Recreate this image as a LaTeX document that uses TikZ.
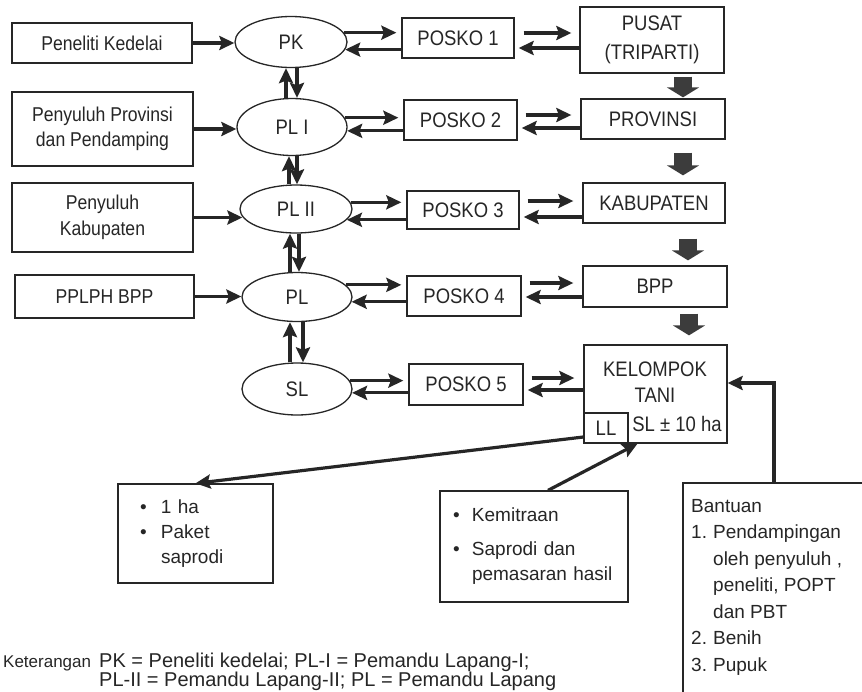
\documentclass[tikz,border=0pt]{standalone}
\usepackage{fontspec}
\setmainfont{Liberation Sans}[FakeStretch=0.88]
\newfontfamily\legfont{Liberation Sans}
\usetikzlibrary{arrows.meta,shapes.geometric,calc}
\definecolor{ink}{HTML}{262626}
\definecolor{blk}{HTML}{3C3C3C}
\begin{document}
\begin{tikzpicture}[x=1pt,y=-1pt,
  sz/.style 2 args={minimum width=#1pt,minimum height=#2pt},
  box/.style={draw=ink,line width=1.3pt,rectangle,inner sep=0pt,font=\fontsize{21}{26}\selectfont,text=ink,align=center},
  lbox/.style={box,font=\fontsize{20}{25.5}\selectfont},
  ell/.style={draw=ink,line width=1.3pt,ellipse,inner sep=0pt,font=\fontsize{21}{26}\selectfont,text=ink},
  lbl/.style={inner sep=0pt,font=\fontsize{21}{26}\selectfont,text=ink,align=center},
  bbox/.style={draw=ink,line width=1.3pt,rectangle,inner ysep=0pt,font=\legfont\fontsize{19}{25}\selectfont,text=ink,align=left},
  arr/.style={draw=ink,line width=3.2pt,-{Stealth[length=15pt,width=14pt,inset=2.5pt]}},
  bigarr/.style={draw=blk,line width=18pt,-{Triangle[width=32pt,length=10pt]}},
  ]
\useasboundingbox (0,0) rectangle (862,691);
\fill[white] (0,0) rectangle (862,691);

% left boxes
\node[lbox,sz={180}{40}] (b1) at (102,43) {Peneliti Kedelai};
\node[lbox,sz={181}{74}] (b2) at (102.5,129) {Penyuluh Provinsi\\dan Pendamping};
\node[lbox,sz={181}{69}] (b3) at (102.5,217.5) {Penyuluh\\Kabupaten};
\node[lbox,sz={179}{43}] (b4) at (104.5,296.5) {PPLPH BPP};

% ellipses
\node[ell,sz={112}{51}] (pk) at (291,42) {PK};
\node[ell,sz={110}{57}] (pl1) at (292,127) {PL I};
\node[ell,sz={112}{48}] (pl2) at (296,209) {PL II};
\node[ell,sz={110}{49}] (pl) at (297,297) {PL};
\node[ell,sz={110}{52}] (sl) at (297,389) {SL};

% posko
\node[box,sz={112}{40}] (p1) at (458,38) {POSKO 1};
\node[box,sz={113}{40}] (p2) at (460.5,120) {POSKO 2};
\node[box,sz={112}{38}] (p3) at (463,210) {POSKO 3};
\node[box,sz={114}{40}] (p4) at (464,296) {POSKO 4};
\node[box,sz={114}{41}] (p5) at (466,384.5) {POSKO 5};

% right boxes
\node[box,sz={144}{66}] (r1) at (652,40) {PUSAT\\[3pt](TRIPARTI)};
\node[box,sz={144}{40}] (r2) at (653,119) {PROVINSI};
\node[box,sz={142}{40}] (r3) at (654,203) {KABUPATEN};
\node[box,sz={144}{41}] (r4) at (655,286.5) {BPP};
\node[box,sz={143}{98}] (r5) at (655.5,394) {};
\node[lbl] (keltxt) at (655,382) {KELOMPOK\\TANI};
\node[box,sz={44}{30}] (ll) at (606,428) {LL};
\node[lbl] (sl10) at (677,424) {SL ± 10 ha};

% left box -> ellipse
\draw[arr] (b1.east) -- (b1.east -| pk.west);
\draw[arr] (b2.east) -- (b2.east -| pl1.west);
\draw[arr] (b3.east) -- ([xshift=3pt]b3.east -| pl2.west);
\draw[arr] (b4.east) -- (b4.east -| pl.west);

% ellipse <-> posko
\draw[arr,shorten >=5pt] (pk.10) -- (pk.10 -| p1.west);
\draw[arr] (p1.west |- pk.-8) -- (pk.-8);
\draw[arr,shorten >=5pt] (pl1.10) -- (pl1.10 -| p2.west);
\draw[arr] (p2.west |- pl1.-4.5) -- (pl1.-4.5);
\draw[arr,shorten >=5pt] (pl2.7.5) -- (pl2.7.5 -| p3.west);
\draw[arr] (p3.west |- pl2.-12.5) -- (pl2.-12.5);
\draw[arr,shorten >=5pt] (pl.14) -- (pl.14 -| p4.west);
\draw[arr] (p4.west |- pl.-5.2) -- (pl.-5.2);
\draw[arr,shorten >=5pt] (sl.9.8) -- (sl.9.8 -| p5.west);
\draw[arr] (p5.west |- sl.-4.2) -- (sl.-4.2);

% posko <-> right boxes
\draw[arr,shorten <=9pt,shorten >=8pt] ([yshift=5pt]p1.east) -- ([yshift=5pt]p1.east -| r1.west);
\draw[arr,shorten >=4pt] ([yshift=-10pt]p1.east -| r1.west) -- ([yshift=-10pt]p1.east);
\draw[arr,shorten <=8pt,shorten >=9pt] ([yshift=5pt]p2.east) -- ([yshift=5pt]p2.east -| r2.west);
\draw[arr,shorten >=4pt] ([yshift=-8pt]p2.east -| r2.west) -- ([yshift=-8pt]p2.east);
\draw[arr,shorten <=8pt,shorten >=9pt] ([yshift=9pt]p3.east) -- ([yshift=9pt]p3.east -| r3.west);
\draw[arr,shorten >=4pt] ([yshift=-7pt]p3.east -| r3.west) -- ([yshift=-7pt]p3.east);
\draw[arr,shorten <=8pt,shorten >=9pt] ([yshift=13pt]p4.east) -- ([yshift=13pt]p4.east -| r4.west);
\draw[arr,shorten >=4pt] ([yshift=-1pt]p4.east -| r4.west) -- ([yshift=-1pt]p4.east);
\draw[arr,shorten <=8pt,shorten >=9pt] ([yshift=6.5pt]p5.east) -- ([yshift=6.5pt]p5.east -| r5.west);
\draw[arr,shorten >=4pt] ([yshift=-5.5pt]p5.east -| r5.west) -- ([yshift=-5.5pt]p5.east);

% vertical ellipse arrows
\draw[arr] ([xshift=-6pt]pl1.north) -- ([xshift=-6pt]pl1.north |- pk.south);
\draw[arr] ([xshift=6pt]pk.south) -- ([xshift=6pt]pk.south |- pl1.north);
\draw[arr] ([xshift=-7pt]pl2.north) -- ([xshift=-7pt]pl2.north |- pl1.south);
\draw[arr] ([xshift=5pt]pl1.south) -- ([xshift=5pt]pl1.south |- pl2.north);
\draw[arr] ([xshift=-7pt]pl.north) -- ([xshift=-7pt]pl.north |- pl2.south);
\draw[arr] ([xshift=3pt]pl2.south) -- ([xshift=3pt]pl2.south |- pl.north);
\draw[arr] ([xshift=-7pt]sl.north) -- ([xshift=-7pt]sl.north |- pl.south);
\draw[arr] ([xshift=6pt]pl.south) -- ([xshift=6pt]pl.south |- sl.north);

% block arrows
\draw[bigarr,shorten <=3pt,shorten >=1pt] ([xshift=31pt]r1.south) -- ([xshift=31pt]r1.south |- r2.north);
\draw[bigarr,shorten <=13pt,shorten >=7pt] ([xshift=30pt]r2.south) -- ([xshift=30pt]r2.south |- r3.north);
\draw[bigarr,shorten <=15pt,shorten >=5pt] ([xshift=34pt]r3.south) -- ([xshift=34pt]r3.south |- r4.north);
\draw[bigarr,shorten <=6pt,shorten >=9pt] ([xshift=34pt]r4.south) -- ([xshift=34pt]r4.south |- r5.north);

% bottom boxes
\node[bbox,sz={155}{99},inner xsep=22pt,text width=111pt] (ha) at (195.5,533.5)
  {\makebox[21pt][l]{•}1 ha\\\makebox[21pt][l]{•}Paket\\\hspace*{21pt}saprodi};
\node[bbox,sz={188}{111},inner xsep=13pt,text width=162pt] (kem) at (534,546.5)
  {\makebox[19pt][l]{•}Kemitraan\\[9pt]\makebox[19pt][l]{•}Saprodi dan\\\hspace*{19pt}pemasaran hasil};
\node[draw=ink,line width=1.3pt,rectangle,sz={192}{237}] (ban) at (779,601.5) {};
\node[anchor=north west,inner sep=0pt,font=\legfont\fontsize{19}{26.5}\selectfont,text=ink,align=left] (bantxt) at (691,499)
  {Bantuan\\\makebox[22pt][l]{1.}Pendampingan\\\hspace*{22pt}oleh penyuluh ,\\\hspace*{22pt}peneliti, POPT\\\hspace*{22pt}dan PBT\\\makebox[22pt][l]{2.}Benih\\\makebox[22pt][l]{3.}Pupuk};

% bottom connectors
\draw[arr] ([yshift=-9pt]ll.west) -- (ha.north);
\draw[arr] ([xshift=14pt]kem.north) -- ([xshift=-18pt]r5.south);
\draw[arr] ([xshift=-5pt]ban.north) |- ([yshift=11pt]r5.east);

% legend
\node[anchor=base west,inner sep=0pt,font=\legfont\fontsize{17}{22}\selectfont,text=ink] (ket) at (3,667) {Keterangan};
\node[anchor=base west,inner sep=0pt,font=\legfont\fontsize{20}{22}\selectfont,text=ink] (leg1) at (99,667) {PK = Peneliti kedelai; PL-I = Pemandu Lapang-I;};
\node[anchor=base west,inner sep=0pt,font=\legfont\fontsize{20}{22}\selectfont,text=ink] (leg2) at (99,686) {PL-II = Pemandu Lapang-II; PL = Pemandu Lapang};
\end{tikzpicture}
\end{document}
